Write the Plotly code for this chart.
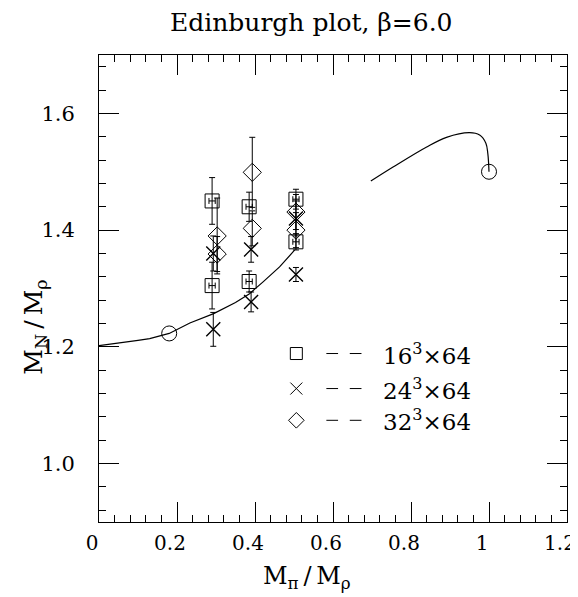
import plotly.graph_objects as go

# ---- data ----
sq_x = [0.290, 0.290, 0.385, 0.385, 0.505, 0.505]
sq_y = [1.450, 1.305, 1.440, 1.312, 1.453, 1.380]
sq_e = [0.040, 0.040, 0.025, 0.018, 0.017, 0.014]

cr_x = [0.293, 0.293, 0.390, 0.390, 0.505, 0.505]
cr_y = [1.360, 1.230, 1.367, 1.277, 1.420, 1.324]
cr_e = [0.030, 0.029, 0.022, 0.017, 0.030, 0.012]

di_x = [0.303, 0.303, 0.393, 0.393, 0.505, 0.505]
di_y = [1.390, 1.359, 1.499, 1.403, 1.431, 1.400]
di_e = [0.065, 0.030, 0.060, 0.030, 0.030, 0.030]

circ_x = [0.18, 1.0]
circ_y = [1.223, 1.500]

curve1_x = [0.0, 0.05, 0.10, 0.13, 0.18, 0.233, 0.294, 0.35, 0.386, 0.42, 0.463, 0.502]
curve1_y = [1.202, 1.206, 1.211, 1.214, 1.223, 1.241, 1.257, 1.276, 1.291, 1.311, 1.337, 1.366]
curve2_x = [0.697, 0.754, 0.839, 0.891, 0.950, 0.976, 0.992, 0.997, 1.000]
curve2_y = [1.484, 1.508, 1.542, 1.559, 1.567, 1.563, 1.549, 1.531, 1.500]

x_ticks = [0, 0.2, 0.4, 0.6, 0.8, 1.0, 1.2]
x_ticktext = ["0", "0.2", "0.4", "0.6", "0.8", "1", "1.2"]
y_ticks = [1.0, 1.2, 1.4, 1.6]
y_ticktext = ["1.0", "1.2", "1.4", "1.6"]

legend_labels = ["16<sup>3</sup>×64", "24<sup>3</sup>×64", "32<sup>3</sup>×64"]
legend_y = [1.1886, 1.1286, 1.0742]

FONT = "DejaVu Serif"
BLACK = "#000000"

fig = go.Figure()

fig.add_trace(go.Scatter(x=curve1_x, y=curve1_y, mode="lines",
                         line=dict(color=BLACK, width=1.2), hoverinfo="skip"))
fig.add_trace(go.Scatter(x=curve2_x, y=curve2_y, mode="lines", line_shape="spline",
                         line=dict(color=BLACK, width=1.2), hoverinfo="skip"))

def eb(arr):
    return dict(type="data", array=arr, visible=True, color=BLACK, thickness=1, width=3)

fig.add_trace(go.Scatter(x=sq_x, y=sq_y, mode="markers",
                         error_y=eb(sq_e),
                         error_x=dict(type="constant", value=0.008, visible=True,
                                      color=BLACK, thickness=1, width=3),
                         marker=dict(symbol="square-open", size=14, color=BLACK,
                                     line=dict(width=1, color=BLACK))))
fig.add_trace(go.Scatter(x=cr_x, y=cr_y, mode="markers",
                         error_y=eb(cr_e),
                         marker=dict(symbol="x-thin-open", size=14, color=BLACK,
                                     line=dict(width=1.4, color=BLACK))))
fig.add_trace(go.Scatter(x=di_x, y=di_y, mode="markers",
                         error_y=eb(di_e),
                         marker=dict(symbol="diamond-open", size=14, color=BLACK,
                                     line=dict(width=1, color=BLACK))))
fig.add_trace(go.Scatter(x=circ_x, y=circ_y, mode="markers",
                         marker=dict(symbol="circle-open", size=15, color=BLACK,
                                     line=dict(width=1, color=BLACK))))

# legend drawn inside the plot
leg_sym = ["square-open", "x-thin-open", "diamond-open"]
leg_x = 0.506
for i, (lab, ly) in enumerate(zip(legend_labels, legend_y)):
    fig.add_trace(go.Scatter(x=[leg_x], y=[ly], mode="markers",
                             marker=dict(symbol=leg_sym[i], size=12, color=BLACK,
                                         line=dict(width=1, color=BLACK))))
    for x0 in (0.583, 0.643):
        fig.add_shape(type="line", x0=x0, x1=x0 + 0.03, y0=ly, y1=ly,
                      line=dict(color=BLACK, width=1), xref="x", yref="y")
    fig.add_annotation(x=0.722, y=ly, xref="x", yref="y", text=lab, showarrow=False,
                       xanchor="left", yanchor="middle",
                       font=dict(family=FONT, size=23, color=BLACK))

axis_common = dict(showline=True, linecolor=BLACK, linewidth=1, mirror="allticks",
                   ticks="inside", ticklen=20, tickwidth=1, tickcolor=BLACK,
                   showgrid=False, zeroline=False, automargin=False,
                   minor=dict(ticks="inside", ticklen=7, tickwidth=1, tickcolor=BLACK,
                              dtick=0.04, showgrid=False))

fig.update_xaxes(range=[0, 1.2], tickvals=x_ticks, ticktext=x_ticktext,
                 ticklabelstandoff=3, ticklabeloverflow="allow", ticklabelshift=-7,
                 tickfont=dict(family=FONT, size=20, color=BLACK), **axis_common)
fig.update_yaxes(range=[0.9, 1.7], tickvals=y_ticks, ticktext=y_ticktext,
                 ticklabelstandoff=19,
                 tickfont=dict(family=FONT, size=21, color=BLACK), **axis_common)

# axis titles (placed like the reference, off-centre)
fig.add_annotation(text="M<sub>π</sub>\u2009/\u2009M<sub>ρ</sub>", xref="paper", yref="paper",
                   x=0.445, y=-0.118, xanchor="center", yanchor="middle", showarrow=False,
                   font=dict(family=FONT, size=24, color=BLACK))
fig.add_annotation(text="M<sub>N</sub>\u2009/\u2009M<sub>ρ</sub>", xref="paper", yref="paper",
                   x=-0.137, y=0.418, xanchor="center", yanchor="middle", showarrow=False,
                   textangle=-90, font=dict(family=FONT, size=25, color=BLACK))

# the page body adds an 8px offset, so the figure is 8px smaller than the window
fig.update_layout(
    width=570, height=589,
    margin=dict(l=91, r=11, t=47, b=75),
    plot_bgcolor="white", paper_bgcolor="white",
    showlegend=False,
    title=dict(text="Edinburgh plot, β=6.0", x=0.532, xanchor="center", y=0.976,
               yanchor="middle", font=dict(family=FONT, size=25, color=BLACK)),
)

fig.write_html("out.html")
